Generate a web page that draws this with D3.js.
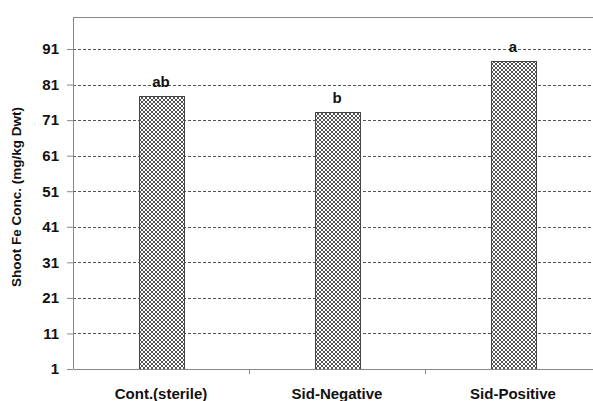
<!DOCTYPE html>
<html lang="en">
<head>
  <meta charset="UTF-8">
  <title>Shoot Fe Conc.</title>
  <script src="https://d3js.org/d3.v7.min.js"></script>
  <style>
    body { margin: 0; background: #fff; }
    text { font-family: "Liberation Sans", Arial, sans-serif; font-weight: bold; fill: #111; }
  </style>
</head>
<body>
<script>
  // data
  const categories = ["Cont.(sterile)", "Sid-Negative", "Sid-Positive"];
  const values = [77.8, 73.3, 87.5];
  const letters = ["ab", "b", "a"];
  const yTicks = [1, 11, 21, 31, 41, 51, 61, 71, 81, 91];

  const width = 593;
  const height = 401;
  // plot area (right edge runs past the picture, like the original crop)
  const plotLeft = 73, plotRight = 601, plotTop = 17, plotBottom = 369;

  const svg = d3.select("body")
    .append("svg")
    .attr("width", width)
    .attr("height", height);

  // crosshatch fill
  const pat = svg.append("defs").append("pattern")
    .attr("id", "hatch")
    .attr("patternUnits", "userSpaceOnUse")
    .attr("width", 4)
    .attr("height", 4);
  pat.append("rect").attr("width", 4).attr("height", 4).attr("fill", "#fff");
  pat.append("path")
    .attr("d", "M0,0 L4,4 M4,0 L0,4 M-1,3 L1,5 M3,-1 L5,1 M-1,1 L1,-1 M3,5 L5,3")
    .attr("stroke", "#555")
    .attr("stroke-width", 1);

  const x = d3.scaleBand()
    .domain(categories)
    .range([plotLeft, plotRight]);

  const y = d3.scaleLinear()
    .domain([1, 100])
    .range([plotBottom, plotTop]);

  // grid lines
  svg.append("g")
    .selectAll("line")
    .data(yTicks.slice(1))
    .join("line")
    .attr("x1", plotLeft)
    .attr("x2", plotRight)
    .attr("y1", d => Math.round(y(d)) + 0.5)
    .attr("y2", d => Math.round(y(d)) + 0.5)
    .attr("stroke", "#555")
    .attr("stroke-dasharray", "3,2");

  // top border
  svg.append("line")
    .attr("x1", plotLeft).attr("x2", plotRight)
    .attr("y1", plotTop + 0.5).attr("y2", plotTop + 0.5)
    .attr("stroke", "#888");

  // bars
  const barW = 45;
  svg.append("g")
    .selectAll("rect")
    .data(values)
    .join("rect")
    .attr("x", (d, i) => Math.round(x(categories[i]) + x.bandwidth() / 2 - barW / 2) + 0.5)
    .attr("y", d => Math.round(y(d)) + 0.5)
    .attr("width", barW)
    .attr("height", d => plotBottom - Math.round(y(d)))
    .attr("fill", "url(#hatch)")
    .attr("stroke", "#444")
    .attr("stroke-width", 1);

  // significance letters
  svg.append("g")
    .selectAll("text")
    .data(values)
    .join("text")
    .attr("x", (d, i) => x(categories[i]) + x.bandwidth() / 2)
    .attr("y", d => y(d) - 9)
    .attr("text-anchor", "middle")
    .style("font-size", "15px")
    .text((d, i) => letters[i]);

  // y axis
  const yAxis = svg.append("g")
    .attr("transform", "translate(" + plotLeft + ",0)")
    .call(d3.axisLeft(y).tickValues(yTicks).tickSize(6).tickPadding(8).tickSizeOuter(0));
  yAxis.select(".domain").attr("stroke", "#888").attr("d", "M0.5," + plotTop + "V" + plotBottom);
  yAxis.selectAll(".tick line").attr("stroke", "#888");
  yAxis.selectAll("text")
    .style("font-size", "15px")
    .style("font-family", "'Liberation Sans', Arial, sans-serif")
    .attr("fill", "#111");

  // x axis
  const xAxis = svg.append("g")
    .attr("transform", "translate(0," + plotBottom + ")")
    .call(d3.axisBottom(x).tickSize(0).tickPadding(19).tickSizeOuter(0));
  xAxis.select(".domain").attr("stroke", "#888");
  xAxis.selectAll("text")
    .style("font-size", "15px")
    .style("font-family", "'Liberation Sans', Arial, sans-serif")
    .attr("fill", "#111");
  // category separator ticks
  svg.append("g")
    .selectAll("line")
    .data(categories.slice(1))
    .join("line")
    .attr("x1", d => Math.round(x(d)) + 0.5)
    .attr("x2", d => Math.round(x(d)) + 0.5)
    .attr("y1", plotBottom)
    .attr("y2", plotBottom + 5)
    .attr("stroke", "#888");

  // y label
  svg.append("text")
    .attr("transform", "translate(21," + 197 + ") rotate(-90)")
    .attr("text-anchor", "middle")
    .style("font-size", "13.5px")
    .text("Shoot Fe Conc. (mg/kg Dwt)");
</script>
</body>
</html>
